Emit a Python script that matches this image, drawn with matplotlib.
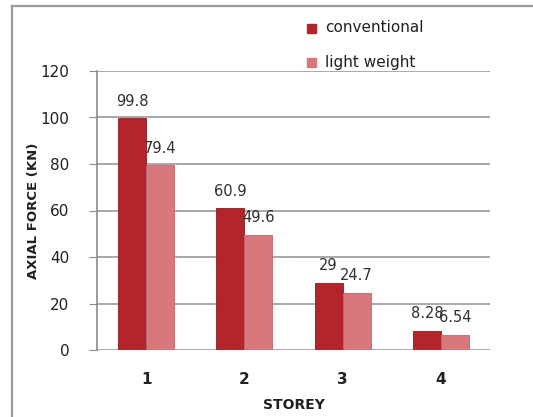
import matplotlib
matplotlib.use("Agg")
import matplotlib.pyplot as plt
import numpy as np
from matplotlib.patches import Rectangle
from matplotlib.lines import Line2D

storeys = ["1", "2", "3", "4"]
conventional = [99.8, 60.9, 29, 8.28]
light_weight = [79.4, 49.6, 24.7, 6.54]
conv_labels = ["99.8", "60.9", "29", "8.28"]
light_labels = ["79.4", "49.6", "24.7", "6.54"]
yticks = [0, 20, 40, 60, 80, 100, 120]

plt.rcParams['font.family'] = ['DejaVu Sans']

W, H = 533, 417
fig = plt.figure(figsize=(W / 100, H / 100), dpi=100)
fig.patch.set_facecolor("white")

# outer chart frame
fig.add_artist(Line2D([12 / W, 12 / W], [0, 1 - 6 / H], color="#9a9a9a", lw=1.6,
                      transform=fig.transFigure))
fig.add_artist(Line2D([12 / W, 1], [1 - 6 / H, 1 - 6 / H], color="#9a9a9a", lw=1.6,
                      transform=fig.transFigure))

left, right = 97 / W, 490 / W
bottom, top = 1 - 350 / H, 1 - 71 / H
ax = fig.add_axes([left, bottom, right - left, top - bottom])

x = np.arange(len(storeys))
w = 0.285
c_dark = "#B3242B"
c_light = "#D8787D"
ax.bar(x - w / 2, conventional, w, color=c_dark, edgecolor="#8e1a20", lw=0.6, zorder=3)
ax.bar(x + w / 2, light_weight, w, color=c_light, edgecolor="#c0676c", lw=0.6, zorder=3)

for xi, v, s in zip(x, conventional, conv_labels):
    ax.text(xi - w / 2, v + 4, s, ha="center", va="bottom", fontsize=10.5, color="#303030")
for xi, v, s in zip(x, light_weight, light_labels):
    ax.text(xi + w / 2, v + 4, s, ha="center", va="bottom", fontsize=10.5, color="#303030")

ax.set_xlim(-0.5, len(storeys) - 0.5)
ax.set_ylim(0, 120)
ax.set_yticks(yticks)
ax.set_yticklabels([str(t) for t in yticks], fontsize=11, color="#202020")
ax.set_xticks(x)
ax.set_xticklabels(storeys, fontsize=11, color="#202020", fontweight="bold")
ax.tick_params(axis="y", length=6, color="#8a8a8a", pad=14)
ax.tick_params(axis="x", length=0, pad=16)
ax.grid(axis="y", color="#9a9a9a", lw=1.2, zorder=0)
for s in ["top", "right", "bottom"]:
    ax.spines[s].set_visible(False)
ax.spines["left"].set_color("#8a8a8a")
ax.spines["left"].set_linewidth(1.2)
ax.set_facecolor("white")

ax.set_ylabel("AXIAL FORCE (KN)", fontsize=9.5, fontweight="bold", color="#202020")
ax.yaxis.set_label_coords(-0.145, 0.5)
ax.set_xlabel("STOREY", fontsize=10, fontweight="bold", color="#202020", va="center")
ax.xaxis.set_label_coords(0.5, -(405 - 350) / 279)

# legend
fig.add_artist(Rectangle((307 / W, 1 - 33 / H), 9 / W, 9 / H, color=c_dark, transform=fig.transFigure))
fig.add_artist(Rectangle((307 / W, 1 - 67 / H), 9 / W, 9 / H, color=c_light, transform=fig.transFigure))
fig.text(325 / W, 1 - 28 / H, "conventional", fontsize=11, va="center", color="#202020")
fig.text(325 / W, 1 - 62 / H, "light weight", fontsize=11, va="center", color="#202020")

fig.savefig("out.png", dpi=100, facecolor="white")
